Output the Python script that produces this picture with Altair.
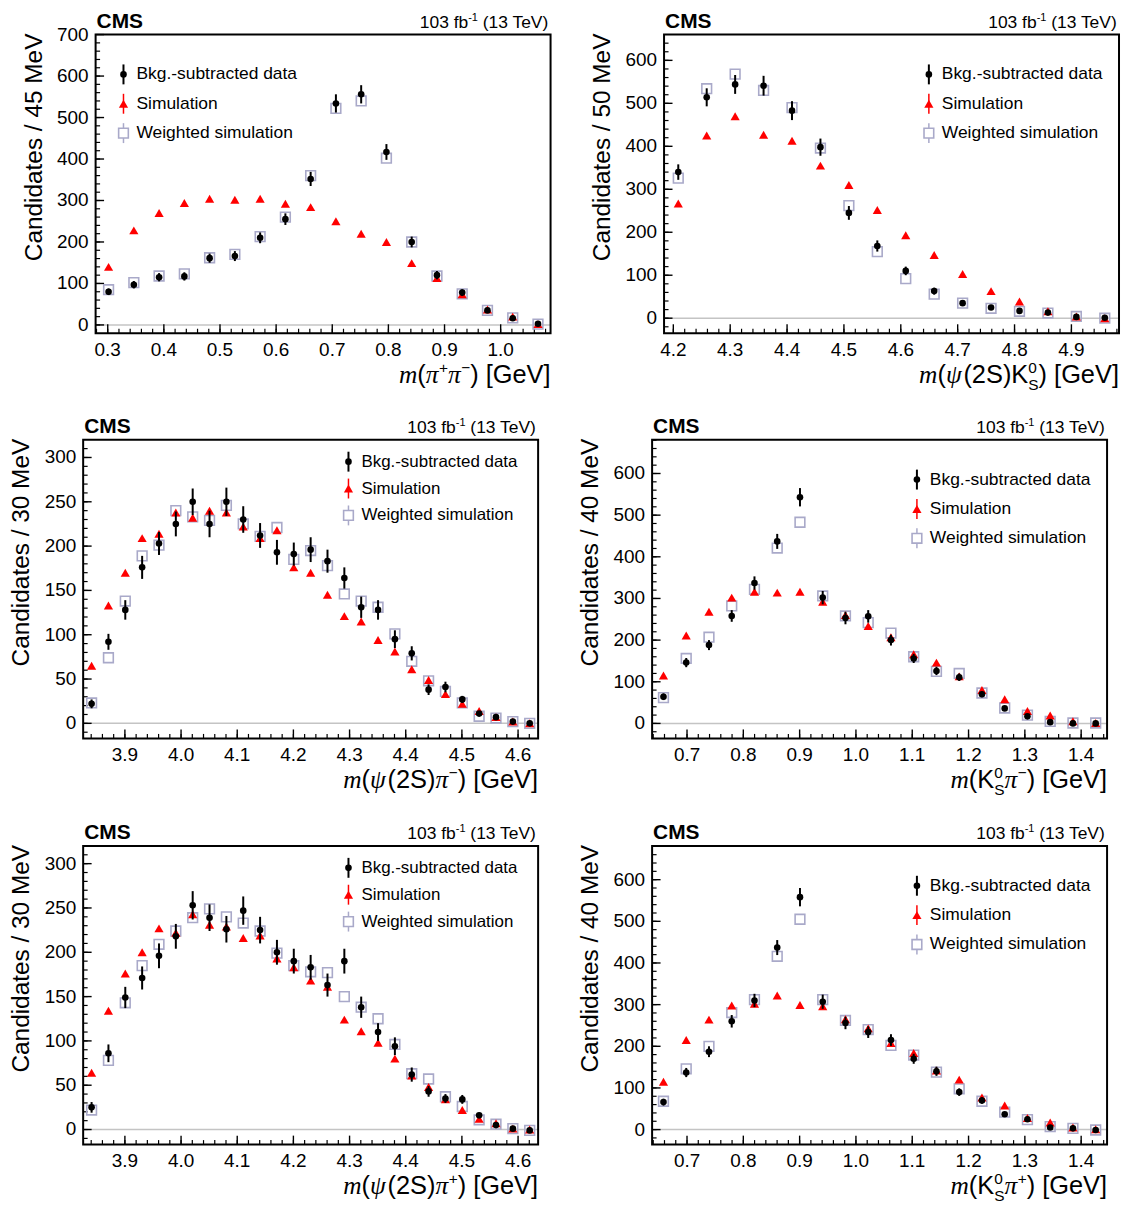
import altair as alt
import numpy as np
import pandas as pd

SANS = "Liberation Sans"
SERIF = "Liberation Serif"
W, H = 457, 300
GREY = "#a9a9c9"
RED = "#ff0000"

# ---------------- data ----------------
# Panel 1: m(pi+ pi-), 45 MeV bins
p1_x = [0.3015, 0.3465, 0.3915, 0.4365, 0.4815, 0.5265, 0.5715, 0.6165, 0.6615,
        0.7065, 0.7515, 0.7965, 0.8415, 0.8865, 0.9315, 0.9765, 1.0215, 1.0665]
p1_data = [80, 97, 115, 117, 161, 166, 210, 255, 352, 534, 556, 417, 200, 120, 78, 35, 16, 3]
p1_err = [8, 9, 10, 10, 11, 12, 13, 14, 17, 22, 22, 19, 13, 10, 8, 5, 4, 2]
p1_sim = [140, 228, 270, 294, 304, 302, 304, 292, 284, 250, 220, 200, 149, 113, 74, 37, 20, 2]
p1_wsim = [85, 102, 118, 123, 162, 170, 213, 260, 360, 522, 540, 402, 200, 118, 75, 35, 17, 2]

# Panel 2: m(psi(2S) K0S), 50 MeV bins
p2_x = [4.2087, 4.2587, 4.3087, 4.3587, 4.4087, 4.4587, 4.5087, 4.5587, 4.6087,
        4.6587, 4.7087, 4.7587, 4.8087, 4.8587, 4.9087, 4.9587]
p2_data = [340, 514, 544, 541, 483, 398, 245, 168, 110, 63, 35, 25, 17, 13, 3, 1]
p2_err = [18, 21, 22, 23, 22, 20, 16, 13, 10, 8, 6, 5, 4, 4, 2, 1]
p2_sim = [267, 425, 470, 427, 413, 355, 310, 252, 193, 147, 103, 63, 39, 16, 4, 0]
p2_wsim = [326, 534, 568, 530, 490, 396, 262, 155, 92, 56, 35, 23, 16, 12, 4, 0]

# Panel 3: m(psi(2S) pi-), 30 MeV bins
p3_x = [3.8407, 3.8707, 3.9007, 3.9307, 3.9607, 3.9907, 4.0207, 4.0507, 4.0807,
        4.1107, 4.1407, 4.1707, 4.2007, 4.2307, 4.2607, 4.2907, 4.3207, 4.3507,
        4.3807, 4.4107, 4.4407, 4.4707, 4.5007, 4.5307, 4.5607, 4.5907, 4.6207]
p3_data = [22, 92, 128, 176, 203, 225, 250, 225, 250, 230, 212, 193, 191, 196, 183, 164,
           131, 128, 95, 79, 38, 41, 27, 11, 7, 2, 0]
p3_err = [5, 9, 11, 13, 13, 14, 15, 15, 16, 15, 14, 14, 13, 14, 13, 12, 12, 11, 10, 8,
          6, 6, 4, 3, 2, 1, 1]
p3_sim = [65, 133, 170, 209, 214, 238, 232, 240, 238, 222, 209, 218, 176, 170, 145, 121,
          115, 94, 81, 61, 49, 33, 22, 14, 7, 2, 0]
p3_wsim = [23, 74, 138, 189, 201, 240, 233, 229, 246, 225, 211, 221, 185, 195, 178, 146,
           138, 131, 101, 70, 48, 36, 23, 8, 6, 2, 0]

# Panel 4: m(K0S pi-), 40 MeV bins
p4_x = [0.6582, 0.6986, 0.7390, 0.7794, 0.8198, 0.8602, 0.9006, 0.9410, 0.9814, 1.0218,
        1.0622, 1.1026, 1.1430, 1.1834, 1.2238, 1.2642, 1.3046, 1.3450, 1.3854, 1.4258]
p4_data = [64, 146, 188, 258, 337, 437, 543, 302, 253, 257, 200, 156, 126, 111, 70, 36, 17, 3, 0, 0]
p4_err = [8, 11, 12, 14, 16, 18, 22, 16, 15, 15, 13, 11, 10, 9, 7, 5, 4, 2, 1, 1]
p4_sim = [115, 211, 268, 302, 316, 314, 316, 292, 260, 234, 207, 166, 146, 113, 80, 58, 30, 19, 5, 1]
p4_wsim = [62, 156, 207, 282, 322, 421, 483, 306, 258, 242, 217, 160, 125, 120, 73, 37, 20, 5, 1, 1]

# Panel 5: m(psi(2S) pi+), 30 MeV bins
p5_x = p3_x
p5_data = [25, 86, 149, 171, 196, 218, 253, 239, 226, 247, 225, 200, 190, 183, 163, 190,
           138, 110, 94, 62, 43, 35, 34, 16, 5, 1, -1]
p5_err = [6, 10, 12, 13, 14, 14, 16, 15, 15, 16, 15, 14, 14, 14, 13, 14, 12, 10, 10, 8,
          6, 5, 5, 3, 2, 1, 1]
p5_sim = [64, 134, 176, 200, 227, 222, 243, 231, 229, 216, 219, 193, 183, 168, 161, 124,
          111, 98, 80, 61, 48, 34, 22, 12, 7, 1, 0]
p5_wsim = [22, 78, 143, 185, 209, 224, 239, 249, 240, 233, 224, 199, 185, 178, 177, 150,
           138, 125, 96, 63, 57, 37, 26, 11, 6, 1, -1]

# Panel 6: m(K0S pi+), 40 MeV bins
p6_x = p4_x
p6_data = [66, 137, 187, 260, 310, 437, 558, 307, 256, 234, 215, 170, 140, 90, 70, 37, 25, 5, 3, -1]
p6_err = [8, 11, 13, 15, 16, 18, 22, 17, 15, 14, 14, 12, 11, 9, 8, 5, 4, 2, 2, 1]
p6_sim = [115, 215, 264, 298, 302, 322, 299, 296, 265, 243, 208, 184, 142, 120, 77, 58, 28, 17, 5, 1]
p6_wsim = [68, 146, 200, 281, 312, 416, 505, 312, 262, 240, 202, 179, 138, 98, 68, 42, 24, 7, 3, -1]

# tick labels
x_ticks_pipi = [0.3, 0.4, 0.5, 0.6, 0.7, 0.8, 0.9, 1.0]
x_ticks_psik = [4.2, 4.3, 4.4, 4.5, 4.6, 4.7, 4.8, 4.9]
x_ticks_psipi = [3.9, 4.0, 4.1, 4.2, 4.3, 4.4, 4.5, 4.6]
x_ticks_kpi = [0.7, 0.8, 0.9, 1.0, 1.1, 1.2, 1.3, 1.4]
y_ticks_700 = [0, 100, 200, 300, 400, 500, 600, 700]
y_ticks_600 = [0, 100, 200, 300, 400, 500, 600]
y_ticks_300 = [0, 50, 100, 150, 200, 250, 300]

legend_labels = ["Bkg.-subtracted data", "Simulation", "Weighted simulation"]

# ---------------- helpers ----------------
SW = {'(': .333, ')': .333, ' ': .278, '[': .278, ']': .278, 'G': .778, 'e': .556,
      'V': .667, '2': .556, 'S': .667, 'K': .667, '0': .556, '+': .584, '\u2212': .584,
      '-': .333, '1': .556, '3': .556, 'T': .611, 'f': .278, 'b': .556}
IW = {'m': .722, '\u03c0': .52, '\u03c8': .69}

S_DATA, S_SIM, S_W = 44, 85, 95


def one():
    return pd.DataFrame({"a": [0]})


def twidth(t, font, size):
    table = IW if font == SERIF else SW
    return sum(table.get(c, 0.55) for c in t) * size


def text_layer(txt, x, y, size, font=SANS, style="normal", weight="normal",
               align="left", baseline="alphabetic", angle=0):
    return alt.Chart(one()).mark_text(
        text=txt, font=font, fontSize=size, fontStyle=style, fontWeight=weight,
        align=align, baseline=baseline, color="black", angle=angle
    ).encode(x=alt.value(x), y=alt.value(y))


def seg_layers(groups, right, base):
    widths = [max(twidth(it[0], it[1], it[3]) for it in g) for g in groups]
    x = right - sum(widths)
    out = []
    for g, w in zip(groups, widths):
        for (t, font, style, size, dy) in g:
            lead = len(t) - len(t.lstrip(' '))
            xx = x + twidth(' ' * lead, font, size)
            out.append(text_layer(t.lstrip(' '), xx, base + dy, size, font, style))
        x += w
    return out


XT, SC = 25.5, 15.5
def L(t): return (t, SANS, "normal", XT, 0)
def SUP(t): return (t, SANS, "normal", SC, -10)
def SUB(t): return (t, SANS, "normal", SC, 7)
M = ("m", SERIF, "italic", XT, 0)
PI = ("\u03c0", SERIF, "italic", XT, 0)
PSI = ("\u03c8", SERIF, "italic", XT, 0)

t_pipi = [[M], [L("(")], [PI], [SUP("+")], [PI], [SUP("\u2212")], [L(") [GeV]")]]
t_psik = [[M], [L("(")], [PSI], [L("(2S)K")], [SUP("0"), SUB("S")], [L(") [GeV]")]]
t_psipim = [[M], [L("(")], [PSI], [L("(2S)")], [PI], [SUP("\u2212")], [L(") [GeV]")]]
t_kpim = [[M], [L("(K")], [SUP("0"), SUB("S")], [PI], [SUP("\u2212")], [L(") [GeV]")]]
t_psipip = [[M], [L("(")], [PSI], [L("(2S)")], [PI], [SUP("+")], [L(") [GeV]")]]
t_kpip = [[M], [L("(K")], [SUP("0"), SUB("S")], [PI], [SUP("+")], [L(") [GeV]")]]

lumi = [[("103 fb", SANS, "normal", 17.5, 0)], [("-1", SANS, "normal", 11, -7)],
        [(" (13 TeV)", SANS, "normal", 17.5, 0)]]


def minor(lo, hi, step):
    n0 = int(np.ceil(lo / step)) - 1
    n1 = int(np.floor(hi / step)) + 1
    return [round(k * step, 6) for k in range(n0, n1 + 1) if lo + 1e-9 < k * step < hi - 1e-9]


def panel(ox, oy, x, d, e, s, w, xdom, ydom, xmaj, xstep, ymaj, ystep, ytitle, xtitle,
          leg_x, leg_y, leg_fs):
    """All layers of one panel; (ox, oy) is the frame's top-left corner in the canvas."""
    df = pd.DataFrame({"x": x, "d": d, "s": s, "w": w,
                       "lo": [a - b for a, b in zip(d, e)],
                       "hi": [a + b for a, b in zip(d, e)]})
    xs = alt.Scale(domain=xdom, range=[ox, ox + W], nice=False, zero=False)
    ys = alt.Scale(domain=ydom, range=[oy + H, oy], nice=False, zero=False)
    base = alt.Chart(df)
    X = alt.X("x:Q", scale=xs, axis=None)
    layers = []
    # zero line
    layers.append(alt.Chart(pd.DataFrame({"z": [0]})).mark_rule(
        color="#c4c4c4", strokeWidth=1.5).encode(
        y=alt.Y("z:Q", scale=ys, axis=None), x=alt.value(ox), x2=alt.value(ox + W)))
    # inward ticks (left and bottom only)
    xmin = minor(xdom[0], xdom[1], xstep)
    ymin = minor(ydom[0], ydom[1], ystep)
    layers.append(alt.Chart(pd.DataFrame({"t": xmaj})).mark_rule(color="black", strokeWidth=1.4)
                  .encode(x=alt.X("t:Q", scale=xs, axis=None),
                          y=alt.value(oy + H), y2=alt.value(oy + H - 9)))
    layers.append(alt.Chart(pd.DataFrame({"t": xmin})).mark_rule(color="black", strokeWidth=1.2)
                  .encode(x=alt.X("t:Q", scale=xs, axis=None),
                          y=alt.value(oy + H), y2=alt.value(oy + H - 4.5)))
    layers.append(alt.Chart(pd.DataFrame({"t": ymaj})).mark_rule(color="black", strokeWidth=1.4)
                  .encode(y=alt.Y("t:Q", scale=ys, axis=None),
                          x=alt.value(ox), x2=alt.value(ox + 8.5)))
    layers.append(alt.Chart(pd.DataFrame({"t": ymin})).mark_rule(color="black", strokeWidth=1.2)
                  .encode(y=alt.Y("t:Q", scale=ys, axis=None),
                          x=alt.value(ox), x2=alt.value(ox + 4.5)))
    # tick labels through the scales
    xl = pd.DataFrame({"t": xmaj, "lab": [f"{v:.1f}" for v in xmaj]})
    layers.append(alt.Chart(xl).mark_text(font=SANS, fontSize=19, baseline="top", align="center",
                                          color="black")
                  .encode(x=alt.X("t:Q", scale=xs, axis=None), y=alt.value(oy + H + 8),
                          text="lab:N"))
    yl = pd.DataFrame({"t": ymaj, "lab": [str(v) for v in ymaj]})
    layers.append(alt.Chart(yl).mark_text(font=SANS, fontSize=19, baseline="middle", align="right",
                                          color="black")
                  .encode(y=alt.Y("t:Q", scale=ys, axis=None), x=alt.value(ox - 7),
                          text="lab:N"))
    # y title
    layers.append(text_layer(ytitle, ox - 54, oy - 1, 24.5, align="right", angle=270))
    # weighted simulation
    layers.append(base.mark_point(shape="square", filled=False, color=GREY, strokeWidth=1.6,
                                  size=S_W, opacity=1)
                  .encode(x=X, y=alt.Y("w:Q", scale=ys, axis=None)))
    # simulation
    layers.append(base.mark_point(shape="triangle-up", filled=True, color=RED, size=S_SIM,
                                  opacity=1)
                  .encode(x=X, y=alt.Y("s:Q", scale=ys, axis=None)))
    # data
    layers.append(base.mark_rule(color="black", strokeWidth=2)
                  .encode(x=X, y=alt.Y("lo:Q", scale=ys, axis=None), y2="hi:Q"))
    layers.append(base.mark_point(shape="circle", filled=True, color="black", size=S_DATA,
                                  opacity=1)
                  .encode(x=X, y=alt.Y("d:Q", scale=ys, axis=None)))
    # frame
    layers.append(alt.Chart(one()).mark_rect(filled=False, fillOpacity=0, stroke="black",
                                             strokeWidth=2)
                  .encode(x=alt.value(ox), x2=alt.value(ox + W),
                          y=alt.value(oy), y2=alt.value(oy + H)))
    # legend
    gap = 29.5 if leg_fs > 17.2 else 27
    y0, y1, y2 = oy + leg_y, oy + leg_y + gap, oy + leg_y + 2 * gap
    lx = ox + leg_x
    layers.append(alt.Chart(one()).mark_rule(color="black", strokeWidth=2)
                  .encode(x=alt.value(lx), y=alt.value(y0 - 10), y2=alt.value(y0 + 10)))
    layers.append(alt.Chart(one()).mark_point(shape="circle", filled=True, color="black",
                                              size=S_DATA, opacity=1)
                  .encode(x=alt.value(lx), y=alt.value(y0)))
    layers.append(alt.Chart(one()).mark_rule(color=RED, strokeWidth=1.5)
                  .encode(x=alt.value(lx), y=alt.value(y1 - 10), y2=alt.value(y1 + 10)))
    layers.append(alt.Chart(one()).mark_point(shape="triangle-up", filled=True, color=RED,
                                              size=S_SIM, opacity=1)
                  .encode(x=alt.value(lx), y=alt.value(y1)))
    layers.append(alt.Chart(one()).mark_rule(color=GREY, strokeWidth=1.5)
                  .encode(x=alt.value(lx), y=alt.value(y2 - 10), y2=alt.value(y2 + 10)))
    layers.append(alt.Chart(one()).mark_point(shape="square", filled=True, fill="white",
                                              stroke=GREY, strokeWidth=1.6, size=S_W, opacity=1)
                  .encode(x=alt.value(lx), y=alt.value(y2)))
    for lab, yy in zip(legend_labels, (y0, y1, y2)):
        layers.append(text_layer(lab, lx + 13, yy, leg_fs, baseline="middle"))
    # CMS and luminosity
    layers.append(text_layer("CMS", ox + 1, oy - 7, 21, weight="bold"))
    layers += seg_layers(lumi, ox + W, oy - 7)
    # x title
    layers += seg_layers(xtitle, ox + W, oy + H + 50)
    return layers


# frame corners on the canvas (page coordinates minus the 8 px margin)
L1, R1 = 88, 659
L2, R2 = 75.5, 647
T1, T2, T3 = 24, 431, 839

all_layers = []
all_layers += panel(L1, T1, p1_x, p1_data, p1_err, p1_sim, p1_wsim, [0.2784, 1.0889], [-20, 700],
                    x_ticks_pipi, 0.02, y_ticks_700, 20, "Candidates / 45 MeV", t_pipi,
                    28, 40, 17.5)
all_layers += panel(R1, T1, p2_x, p2_data, p2_err, p2_sim, p2_wsim, [4.1837, 4.9837], [-35, 660],
                    x_ticks_psik, 0.02, y_ticks_600, 20, "Candidates / 50 MeV", t_psik,
                    266, 40, 17.5)
all_layers += panel(L2, T2, p3_x, p3_data, p3_err, p3_sim, p3_wsim, [3.8257, 4.6357], [-17, 320],
                    x_ticks_psipi, 0.02, y_ticks_300, 10, "Candidates / 30 MeV", t_psipim,
                    266.5, 22, 17)
all_layers += panel(R2, T2, p4_x, p4_data, p4_err, p4_sim, p4_wsim, [0.638, 1.446], [-36, 681],
                    x_ticks_kpi, 0.02, y_ticks_600, 20, "Candidates / 40 MeV", t_kpim,
                    266, 40, 17.5)
all_layers += panel(L2, T3, p5_x, p5_data, p5_err, p5_sim, p5_wsim, [3.8257, 4.6357], [-17, 320],
                    x_ticks_psipi, 0.02, y_ticks_300, 10, "Candidates / 30 MeV", t_psipip,
                    266.5, 22, 17)
all_layers += panel(R2, T3, p6_x, p6_data, p6_err, p6_sim, p6_wsim, [0.638, 1.446], [-36, 681],
                    x_ticks_kpi, 0.02, y_ticks_600, 20, "Candidates / 40 MeV", t_kpip,
                    266, 40, 17.5)

chart = alt.layer(*all_layers).resolve_scale(x="independent", y="independent").properties(
    width=1118, height=1198, padding=0, background="white").configure_view(strokeWidth=0)

chart.save("out.html", embed_options={"renderer": "svg", "actions": False})
